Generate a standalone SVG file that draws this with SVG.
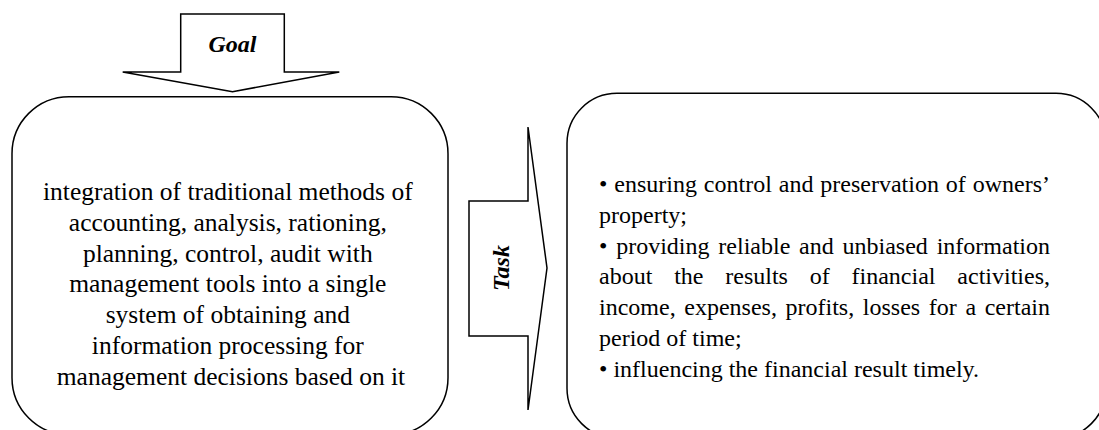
<svg xmlns="http://www.w3.org/2000/svg" width="1099" height="430" viewBox="0 0 1099 430">
  <style>
    .shape { fill: #ffffff; stroke: #000000; stroke-width: 1.5; stroke-linejoin: miter; }
    .body { font-family: "Liberation Serif", "Times New Roman", serif; font-size: 24px; fill: #000000; }
    .big { font-size: 25.5px; }
    .label { font-family: "Liberation Serif", "Times New Roman", serif; font-size: 24px; font-weight: bold; font-style: italic; fill: #000000; }
  </style>
  <rect width="1099" height="430" fill="#ffffff"/>

  <g id="box-goal">
    <rect class="shape" x="12" y="96.7" width="436" height="338" rx="57" ry="57"/>
    <text class="body big" text-anchor="middle">
      <tspan x="231" y="200">integration of traditional methods of</tspan>
      <tspan x="231" y="230.8">accounting, analysis, rationing,</tspan>
      <tspan x="231" y="261.6">planning, control, audit with</tspan>
      <tspan x="231" y="292.4">management tools into a single</tspan>
      <tspan x="231" y="323.2">system of obtaining and</tspan>
      <tspan x="231" y="354">information processing for</tspan>
      <tspan x="231" y="384.8">management decisions based on it</tspan>
    </text>
  </g>

  <g id="box-task">
    <rect class="shape" x="567" y="93.3" width="539" height="345" rx="50" ry="50"/>
    <text class="body">
      <tspan x="599" y="192">•</tspan><tspan x="614.3">ensuring</tspan><tspan x="703.85">control</tspan><tspan x="778.74">and</tspan><tspan x="820.29">preservation</tspan><tspan x="945.82">of</tspan><tspan x="972.7">owners’</tspan>
      <tspan x="599" y="222.8">property;</tspan>
      <tspan x="599" y="253.6">•</tspan><tspan x="616.19">providing</tspan><tspan x="718.33">reliable</tspan><tspan x="799.1">and</tspan><tspan x="842.56">unbiased</tspan><tspan x="936.67">information</tspan>
      <tspan x="599" y="284.4">about</tspan><tspan x="674.14">the</tspan><tspan x="725.28">results</tspan><tspan x="809.75">of</tspan><tspan x="851.55">financial</tspan><tspan x="957.34">activities,</tspan>
      <tspan x="599" y="315.2">income,</tspan><tspan x="684.29">expenses,</tspan><tspan x="785.55">profits,</tspan><tspan x="862.84">losses</tspan><tspan x="928.81">for</tspan><tspan x="965.42">a</tspan><tspan x="984.71">certain</tspan>
      <tspan x="599" y="346">period of time;</tspan>
      <tspan x="599" y="376.8">• influencing the financial result timely.</tspan>
    </text>
  </g>

  <g id="connectors">
    <g id="arrow-goal">
      <polygon class="shape" points="180.7,14 284.3,14 284.3,72 339.3,72 232.5,91.7 122.7,72 180.7,72"/>
      <text class="label" x="232.5" y="52" text-anchor="middle">Goal</text>
    </g>
    <g id="arrow-task">
      <polygon class="shape" points="469,201 528,201 528,127 547,268 528,410 528,336 469,336"/>
      <text class="label" transform="translate(509 268) rotate(-90)" x="0" y="0" text-anchor="middle">Task</text>
    </g>
  </g>
</svg>
